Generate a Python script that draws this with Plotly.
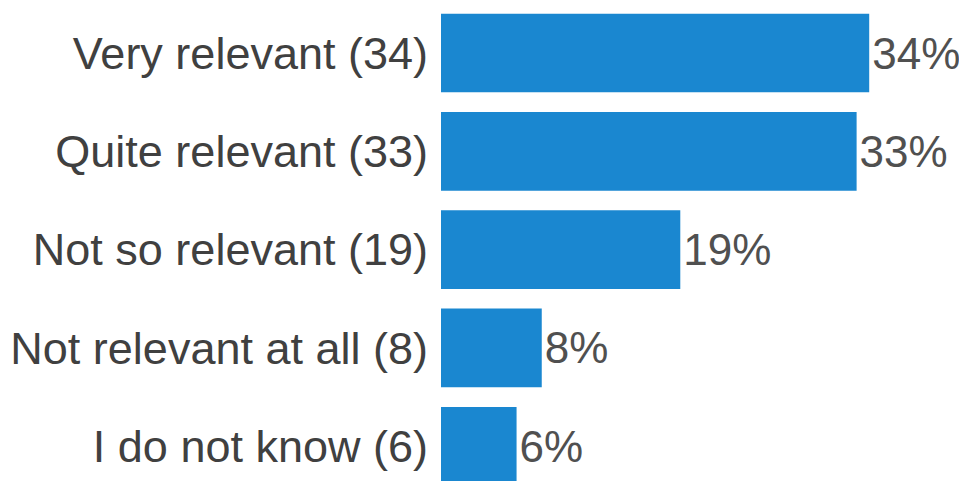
import plotly.graph_objects as go

categories = ["Very relevant (34)", "Quite relevant (33)", "Not so relevant (19)",
              "Not relevant at all (8)", "I do not know (6)"]
values = [34, 33, 19, 8, 6]
text_labels = ["34%", "33%", "19%", "8%", "6%"]

fig = go.Figure(go.Bar(
    x=values, y=categories, orientation="h",
    marker=dict(color="#1a87d0", line=dict(width=0)),
    text=text_labels, textposition="outside", cliponaxis=False,
    textfont=dict(family="Liberation Sans, Arial, sans-serif", size=44, color="#505050"),
))

fig.update_layout(
    width=967, height=481,
    margin=dict(l=433, r=0, t=0, b=0),
    paper_bgcolor="white", plot_bgcolor="white",
    bargap=0.2, showlegend=False,
    font=dict(family="Liberation Sans, Arial, sans-serif", size=44, color="#404040"),
)
fig.update_xaxes(range=[0, 42.4], visible=False, showgrid=False, zeroline=False)
fig.update_yaxes(range=[4.435, -0.458], showgrid=False, zeroline=False, showline=False,
                 ticks="outside", ticklen=3, tickcolor="rgba(0,0,0,0)",
                 tickfont=dict(size=45, color="#404040"))

fig.write_html("out.html")
